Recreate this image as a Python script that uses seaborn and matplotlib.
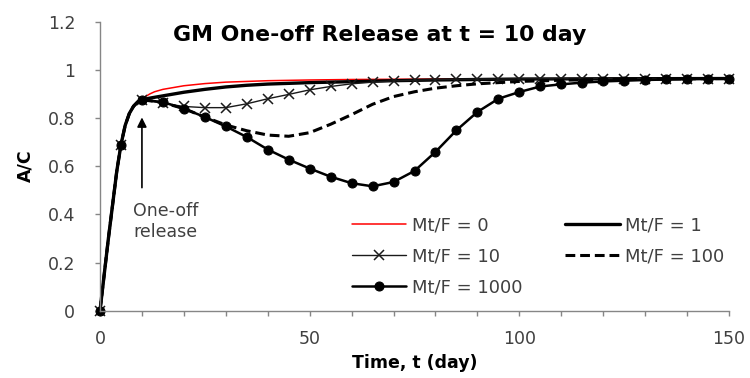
import matplotlib
matplotlib.use("Agg")
import matplotlib.pyplot as plt
import seaborn as sns
import numpy as np

# ---- data ----
t_rise = [0, 1, 2, 3, 4, 5, 6, 7, 8, 9]
ac_rise = [0, 0.15, 0.30, 0.44, 0.58, 0.69, 0.77, 0.82, 0.85, 0.868]

t_mf0 = [10, 11, 12, 13, 15, 20, 25, 30, 40, 50, 60, 80, 100, 150]
ac_mf0 = [0.877, 0.892, 0.902, 0.910, 0.920, 0.935, 0.944, 0.950, 0.956, 0.959, 0.961, 0.963, 0.964, 0.965]

t_mf1 = [10, 12, 15, 20, 25, 30, 35, 40, 45, 50, 60, 70, 80, 90, 100, 120, 150]
ac_mf1 = [0.877, 0.884, 0.893, 0.908, 0.920, 0.930, 0.937, 0.942, 0.945, 0.948, 0.952, 0.956, 0.959, 0.961, 0.963, 0.964, 0.965]

t_5 = [10, 15, 20, 25, 30, 35, 40, 45, 50, 55, 60, 65, 70, 75, 80, 85, 90, 95,
       100, 105, 110, 115, 120, 125, 130, 135, 140, 145, 150]
ac_mf10 = [0.877, 0.862, 0.849, 0.844, 0.844, 0.860, 0.881, 0.899, 0.918, 0.932, 0.943, 0.950, 0.955,
           0.958, 0.960, 0.962, 0.963, 0.963, 0.964, 0.964, 0.964, 0.965, 0.965, 0.965, 0.965, 0.965, 0.965, 0.965, 0.965]
ac_mf1000 = [0.877, 0.867, 0.840, 0.805, 0.766, 0.722, 0.670, 0.628, 0.591, 0.557, 0.530, 0.517, 0.535,
             0.581, 0.660, 0.750, 0.826, 0.881, 0.909, 0.932, 0.941, 0.948, 0.953, 0.956, 0.959, 0.961, 0.963, 0.964, 0.965]

t_mf100 = [10, 15, 20, 25, 30, 35, 40, 45, 50, 55, 60, 65, 70, 75, 80, 85, 90, 95, 100, 110, 120, 130, 140, 150]
ac_mf100 = [0.877, 0.865, 0.840, 0.805, 0.772, 0.748, 0.730, 0.725, 0.740, 0.775, 0.815, 0.858, 0.890, 0.910,
            0.925, 0.935, 0.943, 0.948, 0.953, 0.958, 0.961, 0.963, 0.964, 0.965]

labels = ["Mt/F = 0", "Mt/F = 1", "Mt/F = 10", "Mt/F = 100", "Mt/F = 1000"]

sns.set_style("white")
plt.rcParams["font.family"] = ["DejaVu Sans"]
txt = "#404040"

fig = plt.figure(figsize=(7.5, 3.78), dpi=100)
ax = fig.add_axes([100 / 750, 1 - 310.7 / 378, 629 / 750, (310.7 - 22) / 378])


def join(a, b):
    return list(a) + list(b)


def every5(ts):
    return [i for i, t in enumerate(ts) if t % 5 == 0]


x10 = join(t_rise, t_5)

# Mt/F = 0 (red thin)
sns.lineplot(x=join(t_rise, t_mf0), y=join(ac_rise, ac_mf0), ax=ax, color="#ff0000",
             linewidth=1.1, label=labels[0], clip_on=False)
# Mt/F = 1 (thick black)
sns.lineplot(x=join(t_rise, t_mf1), y=join(ac_rise, ac_mf1), ax=ax, color="black",
             linewidth=2.4, label=labels[1], clip_on=False)
# Mt/F = 10 (thin with x markers)
sns.lineplot(x=x10, y=join(ac_rise, ac_mf10), ax=ax, color="#1a1a1a", linewidth=1.0, marker="x",
             markersize=7, markeredgewidth=1.1, markeredgecolor="#1a1a1a",
             markevery=every5(x10), label=labels[2], clip_on=False)
# Mt/F = 100 (dashed)
sns.lineplot(x=join(t_rise, t_mf100), y=join(ac_rise, ac_mf100), ax=ax, color="black",
             linewidth=2.2, linestyle=(0, (3.2, 1.6)), label=labels[3], clip_on=False)
# Mt/F = 1000 (circles)
sns.lineplot(x=x10, y=join(ac_rise, ac_mf1000), ax=ax, color="black", linewidth=1.8, marker="o",
             markersize=6.5, markeredgecolor="black", markevery=every5(x10),
             label=labels[4], clip_on=False)

ax.set_xlim(0, 150)
ax.set_ylim(0, 1.2)
ax.set_xticks([0, 50, 100, 150])
ax.set_xticks(np.arange(0, 151, 10), minor=True)
ax.set_yticks([0, 0.2, 0.4, 0.6, 0.8, 1.0, 1.2])
ax.set_yticklabels(["0", "0.2", "0.4", "0.6", "0.8", "1", "1.2"])
ax.tick_params(axis="both", which="both", direction="out", length=3.8, width=1,
               color="#868686", labelsize=12.5, labelcolor=txt, bottom=True, left=True)
ax.tick_params(axis="x", pad=10)
ax.tick_params(axis="y", pad=14)
for s in ["top", "right"]:
    ax.spines[s].set_visible(False)
for s in ["left", "bottom"]:
    ax.spines[s].set_color("#868686")
    ax.spines[s].set_linewidth(1)
ax.set_xlabel("")
ax.set_ylabel("")

# legend: column 1 -> 0, 10, 1000 ; column 2 -> 1, 100
h, l = ax.get_legend_handles_labels()
order = [0, 2, 4, 1, 3]
ax.legend([h[i] for i in order], [l[i] for i in order], ncol=2, frameon=False,
          loc="upper left", bbox_to_anchor=((352 - 100) / 629, (310.7 - 216.5) / 288.7),
          fontsize=13, labelcolor=txt, handlelength=3.0, handletextpad=0.3,
          columnspacing=2.4, labelspacing=0.72, borderaxespad=0, borderpad=0)

# annotation arrow + text
ax.annotate("", xy=(10, 0.815), xytext=(10, 0.50),
            arrowprops=dict(arrowstyle="-|>", color="black", lw=1.2, mutation_scale=14))
ax.text(7.9, 0.452, "One-off\nrelease", fontsize=12.5, color=txt, ha="left", va="top", linespacing=1.2)

fig.text(380 / 750, 1 - 35 / 378, "GM One-off Release at t = 10 day", fontsize=15.8,
         fontweight="bold", ha="center", va="center", color="black")
fig.text(415 / 750, 1 - 363 / 378, "Time, t (day)", fontsize=12.5, fontweight="bold",
         ha="center", va="center", color="black")
fig.text(25 / 750, 1 - 166 / 378, "A/C", fontsize=12.5, fontweight="bold", rotation=90,
         ha="center", va="center", color="black")

fig.savefig("out.png", dpi=100)
